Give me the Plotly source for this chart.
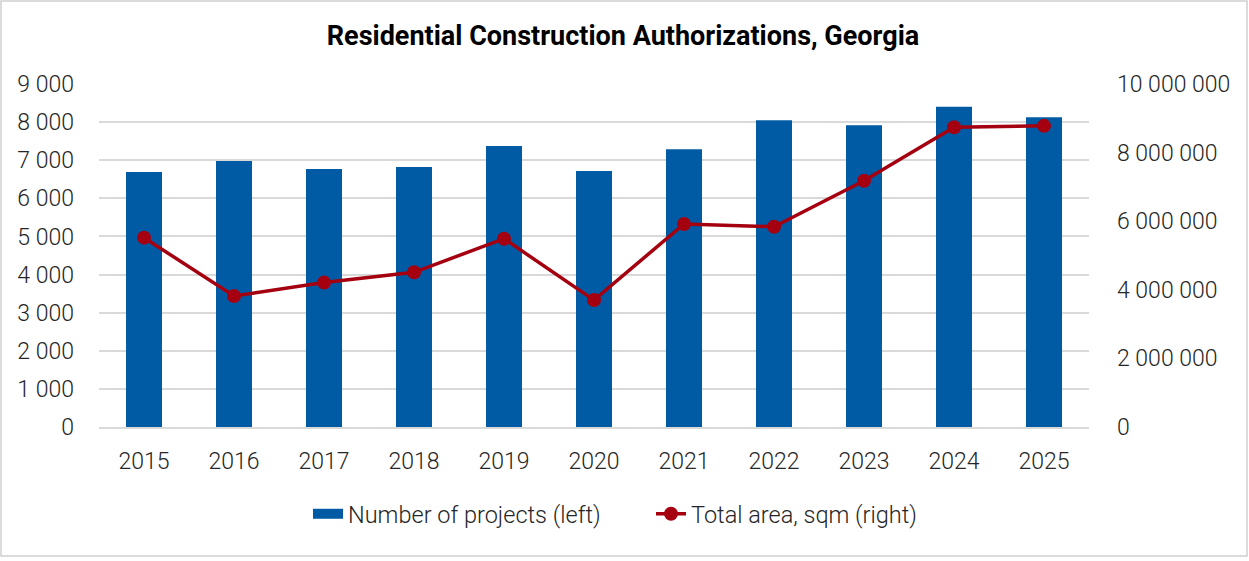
import plotly.graph_objects as go

years = ["2015", "2016", "2017", "2018", "2019", "2020", "2021", "2022", "2023", "2024", "2025"]
projects = [6690, 6980, 6770, 6820, 7370, 6720, 7290, 8050, 7920, 8400, 8130]
area_sqm = [5520000, 3820000, 4210000, 4510000, 5490000, 3700000, 5920000, 5840000, 7180000, 8740000, 8780000]

BLUE = "#005BA5"
RED = "#A50010"
FONT = "Roboto"
TXT = "#262626"

fig = go.Figure()
fig.add_trace(go.Bar(
    x=years, y=projects, name="Number of projects (left)",
    marker=dict(color=BLUE, line=dict(width=0)), width=0.4, yaxis="y",
    showlegend=False,
))
# legend entry for the bars (wide flat swatch like the original)
fig.add_trace(go.Scatter(
    x=[years[0]], y=[None], name="Number of projects (left)", yaxis="y",
    mode="lines", line=dict(color=BLUE, width=10), hoverinfo="skip",
))
fig.add_trace(go.Scatter(
    x=years, y=area_sqm, name="Total area, sqm (right)", yaxis="y2",
    mode="lines+markers", line=dict(color=RED, width=3.5),
    marker=dict(color=RED, size=14),
))

W, H = 1249, 561
L, R, T, B = 99, 160, 84, 134
pw = W - L - R
ph = H - T - B

tickfont = dict(family=FONT, size=23, color=TXT, weight=300)

fig.update_layout(
    width=W, height=H,
    margin=dict(l=L, r=R, t=T, b=B, pad=0),
    paper_bgcolor="white", plot_bgcolor="white",
    separators=". ",
    font=dict(family=FONT, size=23, color=TXT, weight=300),
    title=dict(
        text="<b>Residential Construction Authorizations, Georgia</b>",
        x=(623) / W, xref="container", xanchor="center",
        y=1 - 36 / H, yref="container", yanchor="middle",
        font=dict(family=FONT, size=27, color="#000000"),
    ),
    showlegend=True,
    legend=dict(
        orientation="h", x=(308 - L) / pw, xanchor="left",
        y=(427 - 514) / ph, yanchor="middle",
        font=dict(family=FONT, size=23.5, color=TXT, weight=300),
        traceorder="normal", entrywidth=298, entrywidthmode="pixels",
    ),
    xaxis=dict(
        type="category", range=[-0.5, 10.5], showgrid=False, showline=True,
        linecolor="#d9d9d9", linewidth=2,
        ticks="", ticklabelstandoff=12, tickfont=tickfont,
    ),
    yaxis=dict(
        range=[0, 9000], dtick=1000, tickformat=",d", showgrid=True,
        gridcolor="#d9d9d9", gridwidth=1.5, zeroline=False, showline=False,
        ticks="", ticklabelstandoff=24, tickfont=tickfont,
    ),
    yaxis2=dict(
        range=[0, 10000000], dtick=2000000, tickformat=",d", overlaying="y", side="right",
        showgrid=False, zeroline=False, showline=False,
        ticks="", ticklabelstandoff=27, tickfont=tickfont,
    ),
    shapes=[dict(
        type="rect", xref="paper", yref="paper",
        x0=(1 - L) / pw, x1=(1247 - L) / pw,
        y0=(427 - 556) / ph, y1=(427 - 1) / ph,
        line=dict(color="#d0d0d0", width=1.5), fillcolor="rgba(0,0,0,0)", layer="below",
    )],
)

fig.write_html("out.html")
